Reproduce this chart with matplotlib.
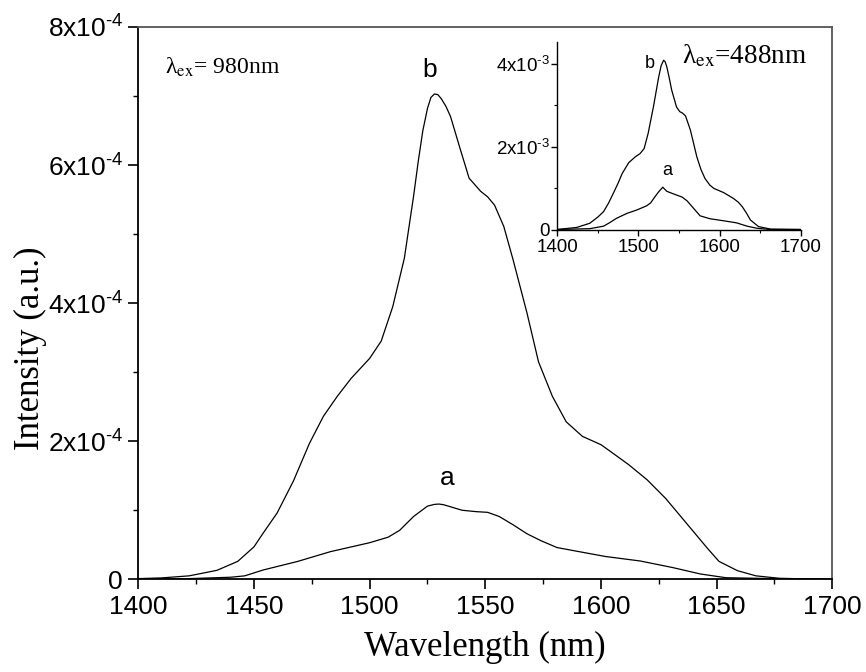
import matplotlib
matplotlib.use("Agg")
import matplotlib.pyplot as plt
from matplotlib.ticker import MultipleLocator

# ---------------- data (main, 980 nm excitation) ----------------
wl_b = [1400, 1410, 1422, 1434, 1443, 1450, 1454, 1460, 1467, 1474, 1480, 1486,
        1492, 1500, 1505, 1510, 1515, 1519, 1521, 1523, 1525, 1526.5, 1528,
        1529.5, 1531, 1533, 1535, 1539, 1543, 1548, 1551, 1554, 1558, 1562,
        1568, 1573, 1579, 1585, 1592, 1600, 1605, 1612, 1620, 1628, 1637, 1646,
        1651, 1659, 1667, 1677, 1690, 1700]
int_b = [0.01, 0.02, 0.05, 0.13, 0.26, 0.47, 0.67, 0.96, 1.42, 1.97, 2.36, 2.65,
         2.91, 3.20, 3.45, 3.95, 4.65, 5.55, 6.05, 6.50, 6.82, 6.98, 7.03,
         7.02, 6.96, 6.85, 6.70, 6.25, 5.81, 5.62, 5.54, 5.42, 5.11, 4.63,
         3.86, 3.15, 2.65, 2.28, 2.07, 1.95, 1.83, 1.66, 1.44, 1.17, 0.81, 0.45,
         0.26, 0.125, 0.05, 0.015, 0.005, 0.0]

wl_a = [1400, 1422, 1440, 1446, 1454, 1469, 1483, 1500, 1508, 1513, 1519, 1525,
        1528, 1530, 1532, 1535, 1540, 1546, 1551, 1556, 1562, 1568, 1574, 1581,
        1589, 1602, 1617, 1631, 1643, 1654, 1674, 1700]
int_a = [0.0, 0.01, 0.03, 0.05, 0.135, 0.26, 0.40, 0.53, 0.61, 0.71, 0.91, 1.06,
         1.085, 1.09, 1.08, 1.05, 1.00, 0.98, 0.97, 0.91, 0.79, 0.66, 0.56, 0.46,
         0.41, 0.33, 0.265, 0.17, 0.077, 0.023, 0.01, 0.0]
main_scale = 1e-4

# ---------------- data (inset, 488 nm excitation) ----------------
in_wl_b = [1400, 1424, 1440, 1450, 1457, 1463, 1469, 1475, 1480, 1488, 1496,
           1502, 1507, 1512, 1518.5, 1525, 1528, 1531, 1533, 1535, 1538, 1541,
           1547, 1551, 1554, 1558, 1564, 1572, 1577, 1582, 1588, 1593, 1605,
           1617, 1623, 1628, 1633, 1638, 1648, 1663, 1700]
in_int_b = [0.0, 0.05, 0.15, 0.30, 0.43, 0.63, 0.87, 1.12, 1.35, 1.61, 1.75,
            1.83, 1.95, 2.32, 2.96, 3.68, 3.95, 4.08, 4.04, 3.92, 3.65, 3.36,
            2.95, 2.84, 2.81, 2.74, 2.40, 1.75, 1.45, 1.23, 1.07, 0.99, 0.89,
            0.75, 0.66, 0.55, 0.40, 0.23, 0.07, 0.01, 0.0]
in_wl_a = [1400, 1440, 1457, 1465, 1473, 1486, 1498, 1510, 1515, 1520, 1525,
           1530, 1535, 1543, 1554, 1560, 1568, 1576, 1588, 1605, 1621, 1634,
           1646, 1662, 1700]
in_int_a = [0.0, 0.02, 0.08, 0.17, 0.27, 0.39, 0.47, 0.57, 0.64, 0.78, 0.91,
            1.02, 0.92, 0.86, 0.78, 0.69, 0.51, 0.33, 0.26, 0.21, 0.16, 0.08,
            0.03, 0.0, 0.0]
inset_scale = 1e-3

main_yticks = [0, 2e-4, 4e-4, 6e-4, 8e-4]
main_yticklabels = ['0', r'2x10$^{\text{-4}}$', r'4x10$^{\text{-4}}$',
                    r'6x10$^{\text{-4}}$', r'8x10$^{\text{-4}}$']
inset_yticks = [0, 2e-3, 4e-3]
inset_yticklabels = ['0', r'2x10$^{\text{-3}}$', r'4x10$^{\text{-3}}$']
inset_xticks = [1400, 1500, 1600, 1700]

plt.rcParams['font.family'] = ['Liberation Sans', 'DejaVu Sans']
plt.rcParams['mathtext.fontset'] = 'custom'
plt.rcParams['mathtext.rm'] = 'Liberation Sans'
plt.rcParams['mathtext.it'] = 'Liberation Sans'

W, H = 866, 672
fig = plt.figure(figsize=(W / 100, H / 100), dpi=100)

# main axes
ax = fig.add_axes([138.3 / W, 1 - 579.3 / H, 694 / W, 552.3 / H])
ax.plot(wl_b, [v * main_scale for v in int_b], color='black', lw=0.9)
ax.plot(wl_a, [v * main_scale for v in int_a], color='black', lw=0.9)
ax.set_xlim(1400, 1700)
ax.set_ylim(0, 8e-4)
ax.xaxis.set_major_locator(MultipleLocator(50))
ax.xaxis.set_minor_locator(MultipleLocator(25))
ax.set_yticks(main_yticks)
ax.set_yticklabels(main_yticklabels)
ax.yaxis.set_minor_locator(MultipleLocator(1e-4))
ax.tick_params(which='major', direction='out', length=7, width=1.2,
               labelsize=19, pad=4, top=False, right=False)
ax.tick_params(which='minor', direction='out', length=3.5, width=1.0,
               top=False, right=False)
for s in ['left', 'bottom']:
    ax.spines[s].set_linewidth(1.3)
for s in ['top', 'right']:
    ax.spines[s].set_linewidth(1.3)
    ax.spines[s].set_color('#555555')

ax.set_xlabel('Wavelength (nm)', family=['Liberation Serif'], fontsize=25,
              va='center')
ax.xaxis.set_label_coords(0.5, -0.1226)
ax.set_ylabel('Intensity (a.u.)', family=['Liberation Serif'], fontsize=25,
              va='center', ha='center')
ax.yaxis.set_label_coords(-0.155, 0.419)

ax.text(1411.5, 7.32e-4, 'λ$_{\\mathrm{ex}}$= 980nm',
        family=['Liberation Serif'], math_fontfamily='stix', fontsize=17,
        ha='left', va='baseline')
ax.text(1526, 7.38e-4, 'b', fontsize=19, ha='center', va='center')
ax.text(1533.4, 1.47e-4, 'a', fontsize=19, ha='center', va='center')

# inset axes
ins = fig.add_axes([557.3 / W, 1 - 229.5 / H, 243.4 / W, 187.5 / H])
ins.plot(in_wl_b, [v * inset_scale for v in in_int_b], color='black', lw=0.9)
ins.plot(in_wl_a, [v * inset_scale for v in in_int_a], color='black', lw=0.9)
ins.set_xlim(1400, 1700)
ins.set_ylim(0, 4.52e-3)
ins.set_xticks(inset_xticks)
ins.xaxis.set_minor_locator(MultipleLocator(50))
ins.set_yticks(inset_yticks)
ins.set_yticklabels(inset_yticklabels)
ins.yaxis.set_minor_locator(MultipleLocator(1e-3))
ins.spines['top'].set_visible(False)
ins.spines['right'].set_visible(False)
for s in ['left', 'bottom']:
    ins.spines[s].set_linewidth(1.0)
ins.tick_params(which='major', direction='out', length=4, width=1.0,
                labelsize=13.5, pad=1.5)
ins.tick_params(axis='x', which='major', pad=3)
ins.tick_params(which='minor', direction='out', length=2, width=0.8)
ins.patch.set_alpha(0)
ins.text(1553.6, 4.01e-3, 'λ$_{\\mathrm{ex}}$=488nm',
         family=['Liberation Serif'], math_fontfamily='stix', fontsize=19.5,
         ha='left', va='baseline')
ins.text(1514.4, 4.01e-3, 'b', fontsize=13, ha='center', va='center')
ins.text(1535.7, 1.42e-3, 'a', fontsize=13, ha='center', va='center')

fig.savefig('out.png', dpi=100)
